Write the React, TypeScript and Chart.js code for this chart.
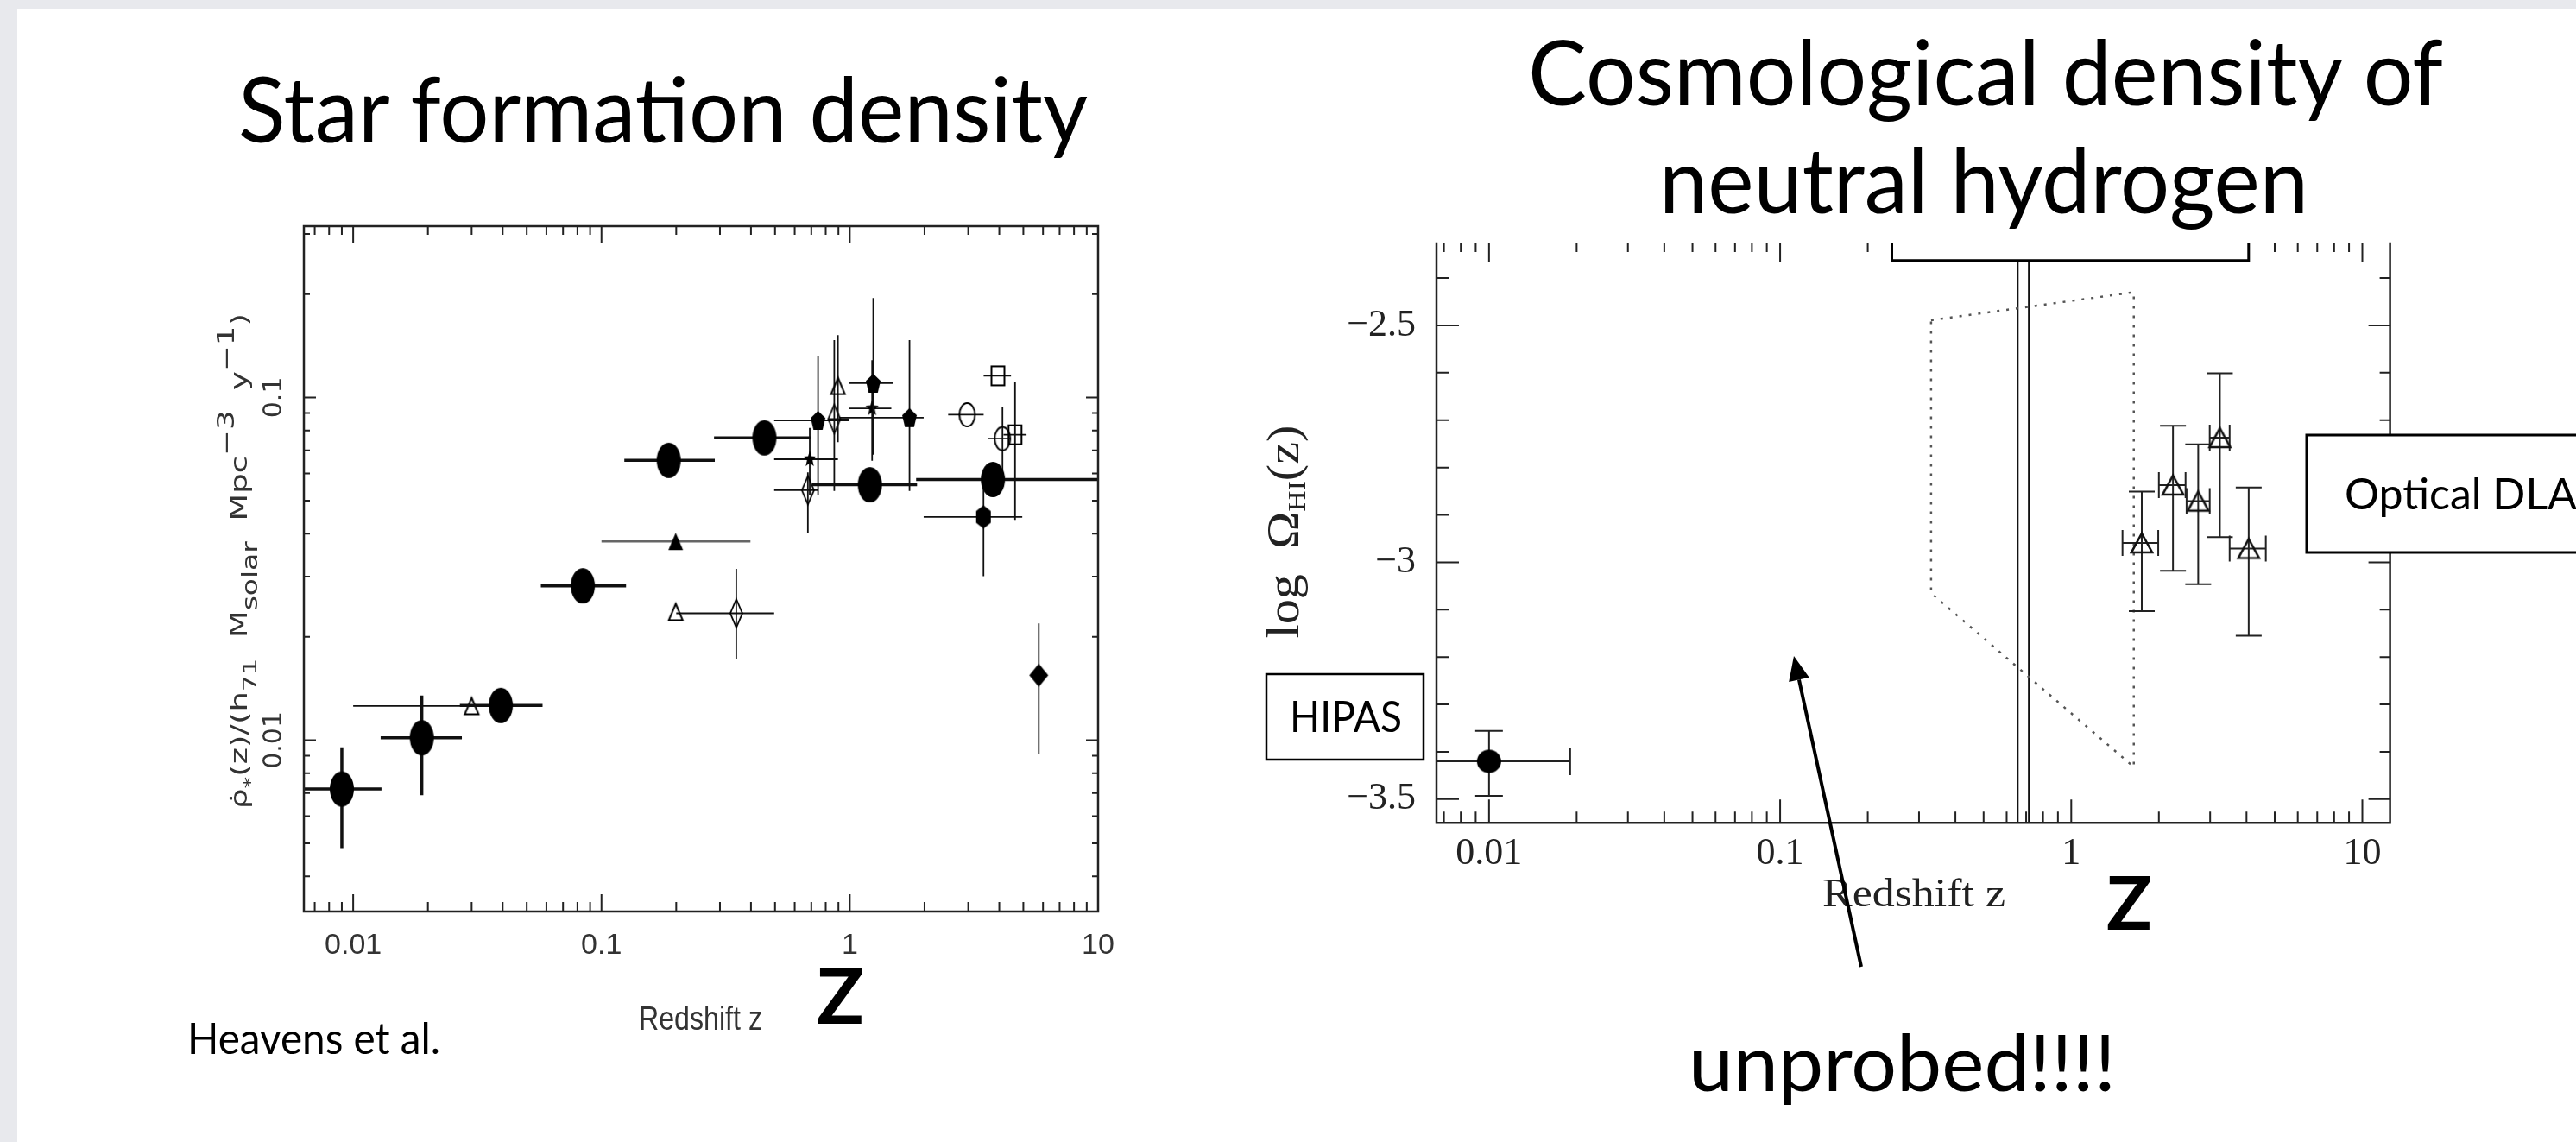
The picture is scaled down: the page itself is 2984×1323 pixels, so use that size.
import React, { useEffect, useRef } from 'react';
import { Chart, registerables } from 'chart.js';

Chart.register(...registerables);

const PAGE_W = 2984;
const PAGE_H = 1323;

// ---------------- tick labels ----------------
const zMajorTicks = [0.01, 0.1, 1, 10];
const zMajorLabels = ['0.01', '0.1', '1', '10'];
const sfrMajorTicks = [0.01, 0.1];
const sfrMajorLabels = ['0.01', '0.1'];
const omegaMajorTicks = [-3.5, -3, -2.5];
const omegaMajorLabels = ['\u22123.5', '\u22123', '\u22122.5'];
const omegaMinorStep = 0.1;

// ---------------- axis ranges ----------------
const sfrZRange = [0.00633, 10];
const sfrRhoRange = [0.00316, 0.316];
const hiZRange = [0.0066, 12.45];
const hiOmegaRange = [-3.55, -2.327];

// ---------------- left panel: star formation density ----------------
// row = [z, zLow, zHigh, rho, rhoLow, rhoHigh]   (null = no bar)
const heavensEllipses = [
  [0.009, 0.006, 0.013, 0.0072, 0.00484, 0.00953],
  [0.0189, 0.0129, 0.0274, 0.01016, 0.0069, 0.0135],
  [0.0393, 0.0269, 0.0579, 0.01262, null, null],
  [0.0841, 0.057, 0.1256, 0.0282, null, null],
  [0.1866, 0.1236, 0.286, 0.0655, null, null],
  [0.453, 0.284, 0.7, 0.0762, null, null],
  [1.205, 0.706, 1.866, 0.0556, null, null],
  [3.77, 1.85, 10, 0.0576, null, null],
];
const filledTriangles = [[0.199, 0.1, 0.398, 0.038, null, null]];
const openTriangles = [
  [0.03, 0.01, 0.045, 0.01257, null, null],
  [0.199, null, null, 0.02366, null, null],
  [0.896, null, null, 0.108, 0.074, 0.152],
];
const openDiamonds = [
  [0.349, 0.2, 0.496, 0.02344, 0.01725, 0.0316],
  [0.866, 0.82, 0.993, 0.0865, 0.0533, 0.147],
  [0.678, 0.496, 0.745, 0.0536, 0.0403, 0.0604],
];
const filledPentagons = [
  [0.745, 0.496, 0.993, 0.0857, 0.052, 0.132],
  [1.243, 0.993, 1.49, 0.11, 0.068, 0.195],
  [1.74, 0.91, 1.984, 0.0873, 0.0533, 0.147],
];
const filledStars = [
  [0.69, 0.496, 0.896, 0.066, 0.052, 0.0815],
  [1.23, 0.993, 1.47, 0.0929, 0.0653, 0.1285],
];
const openCircles = [
  [2.97, 2.49, 3.46, 0.089, null, null],
  [4.12, 3.6, 4.42, 0.0758, 0.058, 0.0935],
];
const openSquares = [
  [3.95, 3.46, 4.46, 0.1156, null, null],
  [4.63, 4.16, 5.15, 0.0778, 0.0439, 0.1108],
];
const filledHexagons = [[3.455, 1.984, 4.95, 0.0448, 0.0301, 0.0558]];
const filledDiamonds = [[5.77, null, null, 0.01546, 0.00908, 0.0219]];

// ---------------- right panel: neutral hydrogen ----------------
// row = [z, zLow, zHigh, logOmega, low, high]
const hipasPoints = [[0.01, 0.0055, 0.019, -3.42, -3.493, -3.356]];
const dlaPoints = [
  [1.747, 1.5, 1.99, -2.959, -3.103, -2.851],
  [2.236, 2.0, 2.47, -2.837, -3.018, -2.712],
  [2.73, 2.49, 2.99, -2.871, -3.046, -2.751],
  [3.24, 2.99, 3.5, -2.737, -2.947, -2.601],
  [4.07, 3.5, 4.66, -2.971, -3.155, -2.842],
];
const unprobedZ = [0.33, 1.64, 1.64, 0.33, 0.33];
const unprobedOmega = [-2.489, -2.43, -3.432, -3.065, -2.489];
const limitLineZ = [0.655, 0.715];

// ---------------- helpers ----------------
function logTicks(min: number, max: number) {
  const out: { value: number; major: boolean }[] = [];
  for (let e = Math.floor(Math.log10(min)); e <= Math.ceil(Math.log10(max)); e++) {
    for (let m = 1; m <= 9; m++) {
      const v = parseFloat((m * Math.pow(10, e)).toPrecision(6));
      if (v >= min * 0.999 && v <= max * 1.001) out.push({ value: v, major: m === 1 });
    }
  }
  return out;
}
function linTicks(min: number, max: number, step: number, majors: number[]) {
  const out: { value: number; major: boolean }[] = [];
  const start = Math.ceil(min / step - 1e-9);
  const end = Math.floor(max / step + 1e-9);
  for (let k = start; k <= end; k++) {
    const v = parseFloat((k * step).toFixed(6));
    out.push({ value: v, major: majors.some((m) => Math.abs(m - v) < 1e-6) });
  }
  return out;
}
function labelFor(v: number, ticks: number[], labels: string[]) {
  const i = ticks.findIndex((t) => Math.abs(t - v) <= Math.abs(t) * 1e-6 + 1e-9);
  return i >= 0 ? labels[i] : '';
}

type PathFn = (c: CanvasRenderingContext2D, w: number, h: number) => void;
function marker(w: number, h: number, path: PathFn, filled: boolean, lw = 2, color = '#000') {
  const pad = Math.ceil(lw) + 1;
  const cv = document.createElement('canvas');
  cv.width = w + pad * 2;
  cv.height = h + pad * 2;
  const c = cv.getContext('2d')!;
  c.translate(pad, pad);
  c.beginPath();
  path(c, w, h);
  c.closePath();
  if (filled) {
    c.fillStyle = color;
    c.fill();
  } else {
    c.strokeStyle = color;
    c.lineWidth = lw;
    c.stroke();
  }
  return cv;
}
const ellipsePath: PathFn = (c, w, h) => c.ellipse(w / 2, h / 2, w / 2, h / 2, 0, 0, Math.PI * 2);
const trianglePath: PathFn = (c, w, h) => { c.moveTo(w / 2, 0); c.lineTo(w, h); c.lineTo(0, h); };
const diamondPath: PathFn = (c, w, h) => { c.moveTo(w / 2, 0); c.lineTo(w, h / 2); c.lineTo(w / 2, h); c.lineTo(0, h / 2); };
const pentagonPath: PathFn = (c, w, h) => {
  c.moveTo(w / 2, 0); c.lineTo(w, 0.38 * h); c.lineTo(0.81 * w, h); c.lineTo(0.19 * w, h); c.lineTo(0, 0.38 * h);
};
const hexagonPath: PathFn = (c, w, h) => {
  c.moveTo(w / 2, 0); c.lineTo(w, 0.25 * h); c.lineTo(w, 0.75 * h); c.lineTo(w / 2, h); c.lineTo(0, 0.75 * h); c.lineTo(0, 0.25 * h);
};
const rectPath: PathFn = (c, w, h) => c.rect(0, 0, w, h);
const starPath: PathFn = (c, w, h) => {
  for (let i = 0; i < 10; i++) {
    const r = i % 2 === 0 ? 0.5 : 0.21;
    const a = -Math.PI / 2 + (i * Math.PI) / 5;
    const x = w / 2 + r * w * Math.cos(a);
    const y = h / 2 + r * h * Math.sin(a);
    if (i === 0) c.moveTo(x, y); else c.lineTo(x, y);
  }
};

const errorBarPlugin = {
  id: 'errorBars',
  beforeDatasetDraw(chart: any, args: any) {
    const ds = chart.data.datasets[args.index];
    if (!ds.rows || !ds.errorBar) return;
    const { ctx, chartArea: a } = chart;
    const xs = chart.scales.x;
    const ys = chart.scales.y;
    const st = ds.errorBar;
    ctx.save();
    ctx.beginPath();
    ctx.rect(a.left, a.top, a.right - a.left, a.bottom - a.top);
    ctx.clip();
    ctx.strokeStyle = st.color;
    ctx.lineWidth = st.width;
    ctx.lineCap = 'butt';
    ctx.beginPath();
    for (const r of ds.rows) {
      const [x, xl, xh, y, yl, yh] = r;
      const px = xs.getPixelForValue(x);
      const py = ys.getPixelForValue(y);
      if (xl != null && xh != null) {
        const p1 = xs.getPixelForValue(xl);
        const p2 = xs.getPixelForValue(xh);
        ctx.moveTo(p1, py); ctx.lineTo(p2, py);
        if (st.cap) {
          ctx.moveTo(p1, py - st.cap); ctx.lineTo(p1, py + st.cap);
          ctx.moveTo(p2, py - st.cap); ctx.lineTo(p2, py + st.cap);
        }
      }
      if (yl != null && yh != null) {
        const q1 = ys.getPixelForValue(yl);
        const q2 = ys.getPixelForValue(yh);
        ctx.moveTo(px, q1); ctx.lineTo(px, q2);
        if (st.cap) {
          ctx.moveTo(px - st.cap, q1); ctx.lineTo(px + st.cap, q1);
          ctx.moveTo(px - st.cap, q2); ctx.lineTo(px + st.cap, q2);
        }
      }
    }
    ctx.stroke();
    ctx.restore();
  },
};

function makeFramePlugin(cfg: any) {
  return {
    id: 'frameTicks',
    afterDatasetsDraw(chart: any) {
      const { ctx, chartArea: a } = chart;
      const xs = chart.scales.x;
      const ys = chart.scales.y;
      ctx.save();
      ctx.strokeStyle = cfg.color;
      ctx.lineWidth = cfg.tickWidth;
      ctx.lineCap = 'butt';
      ctx.beginPath();
      for (const t of xs.ticks) {
        const px = xs.getPixelForValue(t.value);
        ctx.moveTo(px, a.bottom); ctx.lineTo(px, a.bottom - (t.major ? cfg.bottomMajor : cfg.bottomMinor));
        ctx.moveTo(px, a.top); ctx.lineTo(px, a.top + (t.major ? cfg.topMajor : cfg.topMinor));
      }
      for (const t of ys.ticks) {
        const py = ys.getPixelForValue(t.value);
        ctx.moveTo(a.left, py); ctx.lineTo(a.left + (t.major ? cfg.leftMajor : cfg.leftMinor), py);
        ctx.moveTo(a.right, py); ctx.lineTo(a.right - (t.major ? cfg.rightMajor : cfg.rightMinor), py);
      }
      ctx.stroke();
      ctx.lineWidth = cfg.frameWidth;
      ctx.lineCap = 'square';
      ctx.beginPath();
      if (cfg.drawTop) { ctx.moveTo(a.left, a.top); ctx.lineTo(a.right, a.top); }
      ctx.moveTo(a.left, a.top); ctx.lineTo(a.left, a.bottom); ctx.lineTo(a.right, a.bottom); ctx.lineTo(a.right, a.top);
      ctx.stroke();
      ctx.restore();
    },
  };
}

function pointSet(rows: any[], style: any, bar: any) {
  return {
    data: rows.map((r) => ({ x: r[0], y: r[3] })),
    rows,
    errorBar: bar,
    pointStyle: style,
    pointRadius: 12,
    pointHoverRadius: 12,
    showLine: false,
  };
}

function leftConfig(): any {
  const thick = { color: '#111', width: 3.5, cap: 0 };
  const thin = { color: '#111', width: 1.8, cap: 0 };
  const grey = { color: '#666', width: 2.6, cap: 0 };
  const xTicks = logTicks(sfrZRange[0], sfrZRange[1]);
  const yTicks = logTicks(sfrRhoRange[0], sfrRhoRange[1]);
  return {
    type: 'scatter',
    data: {
      datasets: [
        pointSet(heavensEllipses, marker(28, 41, ellipsePath, true), thick),
        pointSet(filledTriangles, marker(17, 20, trianglePath, true), grey),
        pointSet(openTriangles, marker(16, 19, trianglePath, false, 2), thin),
        pointSet(openDiamonds, marker(14, 33, diamondPath, false, 1.8), thin),
        pointSet(filledPentagons, marker(17, 22, pentagonPath, true), thin),
        pointSet(filledStars, marker(16, 20, starPath, true), thin),
        pointSet(openCircles, marker(18, 27, ellipsePath, false, 2), thin),
        pointSet(openSquares, marker(15, 22, rectPath, false, 2), thin),
        pointSet(filledHexagons, marker(17, 27, hexagonPath, true), thin),
        pointSet(filledDiamonds, marker(22, 27, diamondPath, true), thin),
      ],
    },
    options: {
      responsive: false,
      animation: false,
      devicePixelRatio: 1,
      events: [],
      layout: { padding: { left: 200, top: 262, right: PAGE_W - 1272, bottom: PAGE_H - 1056 - 100 } },
      plugins: { legend: { display: false }, tooltip: { enabled: false } },
      scales: {
        x: {
          type: 'logarithmic',
          min: sfrZRange[0],
          max: sfrZRange[1],
          afterBuildTicks: (s: any) => { s.ticks = xTicks.map((t) => ({ ...t })); },
          afterFit: (s: any) => { s.height = 100; },
          grid: { display: false, drawTicks: false, drawOnChartArea: false },
          border: { display: false },
          ticks: {
            autoSkip: false,
            minRotation: 0,
            maxRotation: 0,
            padding: 19,
            color: '#333',
            font: { family: "'Liberation Sans Narrow', 'Liberation Sans', sans-serif", size: 34 },
            callback: (v: number) => labelFor(v, zMajorTicks, zMajorLabels),
          },
        },
        y: {
          type: 'logarithmic',
          min: sfrRhoRange[0],
          max: sfrRhoRange[1],
          afterBuildTicks: (s: any) => { s.ticks = yTicks.map((t) => ({ ...t })); },
          afterFit: (s: any) => { s.width = 152; },
          grid: { display: false, drawTicks: false, drawOnChartArea: false },
          border: { display: false },
          ticks: {
            autoSkip: false,
            minRotation: 90,
            maxRotation: 90,
            crossAlign: 'center',
            padding: 0,
            color: '#333',
            font: { family: "'DejaVu Sans', sans-serif", size: 30 },
            callback: (v: number) => labelFor(v, sfrMajorTicks, sfrMajorLabels),
          },
        },
      },
    },
    plugins: [
      errorBarPlugin,
      makeFramePlugin({
        color: '#222', tickWidth: 2, frameWidth: 2.5, drawTop: true,
        bottomMajor: 20, bottomMinor: 11, topMajor: 19, topMinor: 10,
        leftMajor: 14, leftMinor: 7, rightMajor: 14, rightMinor: 7,
      }),
    ],
  };
}

function rightConfig(): any {
  const bars = { color: '#222', width: 2, cap: 15 };
  const xTicks = logTicks(hiZRange[0], hiZRange[1]);
  const yTicks = linTicks(-3.5, hiOmegaRange[1], omegaMinorStep, omegaMajorTicks);
  const lineSet = (xs: number[], ys: number[], color: string, width: number, dash: number[]) => ({
    data: xs.map((x, i) => ({ x, y: ys[i] })),
    showLine: true,
    borderColor: color,
    borderWidth: width,
    borderDash: dash,
    pointRadius: 0,
    pointHoverRadius: 0,
    fill: false,
    tension: 0,
  });
  return {
    type: 'scatter',
    data: {
      datasets: [
        pointSet(dlaPoints, marker(24, 22, trianglePath, false, 2.6, '#111'), bars),
        pointSet(hipasPoints, marker(28, 27, ellipsePath, true), { ...bars, cap: 16 }),
        lineSet(unprobedZ, unprobedOmega, '#555', 2.5, [3, 8]),
        lineSet([limitLineZ[0], limitLineZ[0]], [hiOmegaRange[0], hiOmegaRange[1]], '#111', 2, []),
        lineSet([limitLineZ[1], limitLineZ[1]], [hiOmegaRange[0], hiOmegaRange[1]], '#111', 2, []),
      ],
    },
    options: {
      responsive: false,
      animation: false,
      devicePixelRatio: 1,
      events: [],
      layout: { padding: { left: 1464, top: 282, right: PAGE_W - 2768.6, bottom: PAGE_H - 953.3 - 100 } },
      plugins: { legend: { display: false }, tooltip: { enabled: false } },
      scales: {
        x: {
          type: 'logarithmic',
          min: hiZRange[0],
          max: hiZRange[1],
          afterBuildTicks: (s: any) => { s.ticks = xTicks.map((t) => ({ ...t })); },
          afterFit: (s: any) => { s.height = 100; },
          grid: { display: false, drawTicks: false, drawOnChartArea: false },
          border: { display: false },
          ticks: {
            autoSkip: false,
            minRotation: 0,
            maxRotation: 0,
            padding: 10,
            color: '#222',
            font: { family: "'Liberation Serif', serif", size: 44 },
            callback: (v: number) => labelFor(v, zMajorTicks, zMajorLabels),
          },
        },
        y: {
          type: 'linear',
          min: hiOmegaRange[0],
          max: hiOmegaRange[1],
          afterBuildTicks: (s: any) => { s.ticks = yTicks.map((t) => ({ ...t })); },
          afterFit: (s: any) => { s.width = 200; },
          grid: { display: false, drawTicks: false, drawOnChartArea: false },
          border: { display: false },
          ticks: {
            autoSkip: false,
            padding: 24,
            color: '#222',
            font: { family: "'Liberation Serif', serif", size: 44 },
            callback: (v: number) => labelFor(v, omegaMajorTicks, omegaMajorLabels),
          },
        },
      },
    },
    plugins: [
      errorBarPlugin,
      makeFramePlugin({
        color: '#222', tickWidth: 2, frameWidth: 2.5, drawTop: false,
        bottomMajor: 27, bottomMinor: 13, topMajor: 22, topMinor: 10,
        leftMajor: 26, leftMinor: 15, rightMajor: 25, rightMinor: 12,
      }),
    ],
  };
}

const sans = "Lato, 'Open Sans', sans-serif";

export default function App() {
  const leftRef = useRef<HTMLCanvasElement>(null);
  const rightRef = useRef<HTMLCanvasElement>(null);

  useEffect(() => {
    const left = new Chart(leftRef.current!, leftConfig());
    const right = new Chart(rightRef.current!, rightConfig());
    return () => {
      left.destroy();
      right.destroy();
    };
  }, []);

  // arrow geometry (annotation)
  const tail = [2156, 1120];
  const tip = [2078, 760];
  const dx = tip[0] - tail[0];
  const dy = tip[1] - tail[1];
  const len = Math.hypot(dx, dy);
  const ux = dx / len, uy = dy / len;
  const headL = 28, headW = 12;
  const bx = tip[0] - ux * headL, by = tip[1] - uy * headL;
  const nx = -uy, ny = ux;

  const canvasStyle: React.CSSProperties = { position: 'absolute', left: 0, top: 0, width: PAGE_W, height: PAGE_H };

  return (
    <div style={{ position: 'fixed', left: 0, top: 0, width: PAGE_W, height: PAGE_H, background: '#e8e9ed', overflow: 'hidden' }}>
      <div style={{ position: 'absolute', left: 20, top: 10, right: 0, bottom: 0, background: '#ffffff' }} />
      <canvas ref={leftRef} width={PAGE_W} height={PAGE_H} style={canvasStyle} />
      <canvas ref={rightRef} width={PAGE_W} height={PAGE_H} style={canvasStyle} />
      <svg width={PAGE_W} height={PAGE_H} style={{ position: 'absolute', left: 0, top: 0, pointerEvents: 'none' }}>
        {/* titles */}
        <text x={276} y={165} fontFamily={sans} fontSize={104} fill="#000" textLength={984} lengthAdjust="spacingAndGlyphs">Star formation density</text>
        <text x={1770} y={122} fontFamily={sans} fontSize={104} fill="#000" textLength={1060} lengthAdjust="spacingAndGlyphs">Cosmological density of</text>
        <text x={1922} y={247} fontFamily={sans} fontSize={104} fill="#000" textLength={752} lengthAdjust="spacingAndGlyphs">neutral hydrogen</text>

        {/* left panel annotations */}
        <text
          transform="translate(286 650) rotate(-90)"
          textAnchor="middle"
          fontFamily="'DejaVu Sans', sans-serif"
          fontSize={27}
          fill="#333"
          textLength={574}
          lengthAdjust="spacingAndGlyphs"
        >
          {'\u03C1\u0307'}
          <tspan baselineShift="-10" fontSize={20}>*</tspan>
          <tspan>(z)/(h</tspan>
          <tspan baselineShift="-11" fontSize={22}>71</tspan>
          <tspan>{'\u00A0\u00A0M'}</tspan>
          <tspan baselineShift="-12" fontSize={24}>solar</tspan>
          <tspan>{'\u00A0\u00A0Mpc'}</tspan>
          <tspan baselineShift="15" fontSize={26}>{'\u22123'}</tspan>
          <tspan>{'\u00A0\u00A0y'}</tspan>
          <tspan baselineShift="15" fontSize={26}>{'\u22121'}</tspan>
          <tspan>)</tspan>
        </text>
        <text x={740} y={1193} fontFamily="'Liberation Sans Narrow', 'Liberation Sans', sans-serif" fontSize={38} fill="#333" textLength={143} lengthAdjust="spacingAndGlyphs">Redshift z</text>
        <text x={946} y={1186} fontFamily={sans} fontWeight="bold" fontSize={88} fill="#000" textLength={55} lengthAdjust="spacingAndGlyphs">Z</text>
        <text x={217} y={1221} fontFamily={sans} fontSize={50} fill="#000" textLength={293} lengthAdjust="spacingAndGlyphs">Heavens et al.</text>

        {/* right panel annotations */}
        <path d="M2191.5 270 V301.7 H2604.8 V270 Z" fill="#fff" stroke="none" />
        <path d="M2191.5 282 V301.7 H2604.8 V282" fill="none" stroke="#000" strokeWidth={3} />
        <text
          transform="translate(1504 616) rotate(-90)"
          textAnchor="middle"
          fontFamily="'Liberation Serif', serif"
          fontSize={52}
          fill="#222"
          textLength={247}
          lengthAdjust="spacingAndGlyphs"
        >
          {'log\u00A0\u00A0\u03A9'}
          <tspan baselineShift="-8" fontSize={30}>HI</tspan>
          <tspan>(z)</tspan>
        </text>
        <text x={2111} y={1050} fontFamily="'Liberation Serif', serif" fontSize={46} fill="#222" textLength={212} lengthAdjust="spacingAndGlyphs">Redshift z</text>
        <text x={2440} y={1077} fontFamily={sans} fontWeight="bold" fontSize={86} fill="#000" textLength={53} lengthAdjust="spacingAndGlyphs">Z</text>

        <rect x={1467} y={781} width={182} height={99} fill="#fff" stroke="#000" strokeWidth={2.5} />
        <text x={1494} y={848} fontFamily={sans} fontSize={50} fill="#000" textLength={130} lengthAdjust="spacingAndGlyphs">HIPAS</text>

        <rect x={2672} y={504} width={400} height={136} fill="#fff" stroke="#000" strokeWidth={3} />
        <text x={2716} y={590} fontFamily={sans} fontSize={50} fill="#000">Optical DLA</text>

        <line x1={tail[0]} y1={tail[1]} x2={bx} y2={by} stroke="#000" strokeWidth={4} />
        <polygon
          points={`${tip[0]},${tip[1]} ${bx + nx * headW},${by + ny * headW} ${bx - nx * headW},${by - ny * headW}`}
          fill="#000"
        />
        <text x={1956} y={1264} fontFamily={sans} fontSize={92} fill="#000" textLength={495} lengthAdjust="spacingAndGlyphs">unprobed!!!!</text>
      </svg>
    </div>
  );
}
